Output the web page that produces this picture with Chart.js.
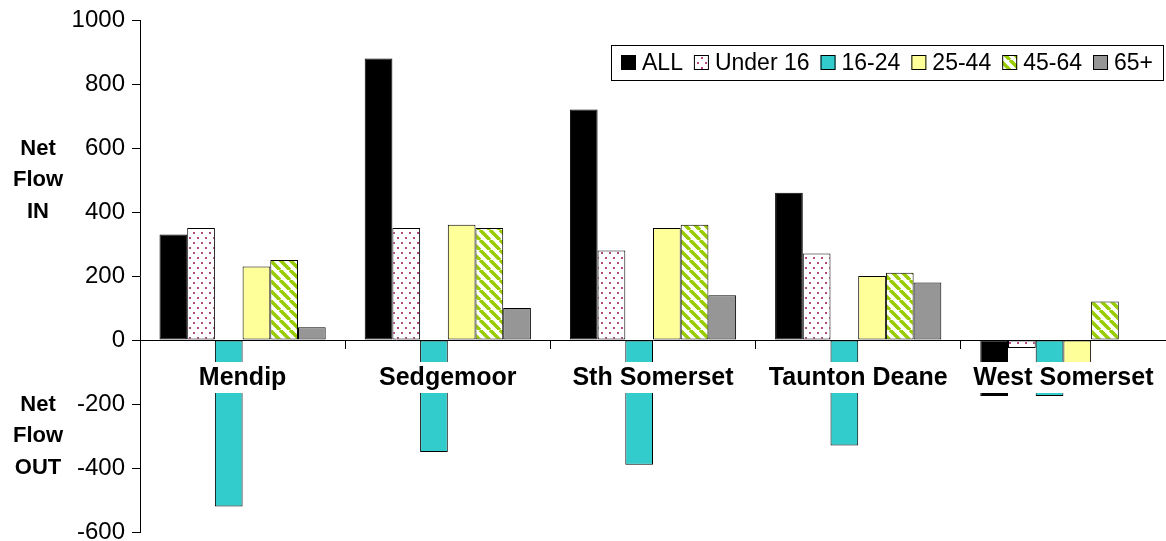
<!DOCTYPE html>
<html>
<head>
<meta charset="utf-8">
<title>Net Flow by district and age group</title>
<script src="https://cdn.jsdelivr.net/npm/chart.js@4.4.1/dist/chart.umd.min.js"></script>
<style>
  html, body { margin: 0; padding: 0; background: #fff; }
  #wrap { width: 1166px; height: 541px; }
</style>
</head>
<body>
<div id="wrap"><canvas id="flowChart" width="1166" height="541"></canvas></div>
<script>
// data
const districts = ['Mendip', 'Sedgemoor', 'Sth Somerset', 'Taunton Deane', 'West Somerset'];
const ageGroups = ['ALL', 'Under 16', '16-24', '25-44', '45-64', '65+'];
const flowAll = [330, 880, 720, 460, -175];
const flowUnder16 = [350, 350, 280, 270, -25];
const flow16to24 = [-520, -350, -390, -330, -175];
const flow25to44 = [230, 360, 350, 200, -100];
const flow45to64 = [250, 350, 360, 210, 120];
const flow65plus = [40, 100, 140, 180, 0];
const yTicks = [-600, -400, -200, 0, 200, 400, 600, 800, 1000];

const FONT = '"Liberation Sans", Arial, Helvetica, sans-serif';
Chart.defaults.font.family = FONT;
Chart.defaults.color = '#000';

// fill patterns like the old Excel ones
function dotPattern() {
    const c = document.createElement('canvas');
    c.width = 8; c.height = 10;
    const g = c.getContext('2d');
    g.fillStyle = '#fff';
    g.fillRect(0, 0, 8, 10);
    g.fillStyle = '#b04a80';
    g.fillRect(1, 2, 2, 2);
    g.fillRect(5, 7, 2, 2);
    return g.createPattern(c, 'repeat');
}

function stripePattern() {
    const s = 10;
    const c = document.createElement('canvas');
    c.width = s; c.height = s;
    const g = c.getContext('2d');
    g.fillStyle = '#fff';
    g.fillRect(0, 0, s, s);
    g.strokeStyle = '#99cc00';
    g.lineWidth = 3.6;
    g.beginPath();
    [-s, 0, s].forEach(k => {
        g.moveTo(k, 0);
        g.lineTo(k + s, s);
    });
    g.stroke();
    return g.createPattern(c, 'repeat');
}

const seriesValues = [flowAll, flowUnder16, flow16to24, flow25to44, flow45to64, flow65plus];
const seriesFills = ['#000000', dotPattern(), '#33cccc', '#ffff99', stripePattern(), '#969696'];

// legend in a box inside the plot, top right
const boxLegend = {
    id: 'boxLegend',
    afterDraw(chart) {
        const ctx = chart.ctx;
        const sw = 15, gapText = 6, gapItem = 11, padX = 10;
        ctx.save();
        ctx.font = '23px ' + FONT;
        const items = chart.data.datasets.map(ds => ({ ds, w: ctx.measureText(ds.label).width }));
        let width = padX * 2;
        items.forEach((it, i) => {
            width += sw + gapText + it.w + (i < items.length - 1 ? gapItem : 0);
        });
        width = Math.round(width);
        const h = 35;
        const right = 1163;
        const left = right - width;
        const top = 45;
        const cy = top + h / 2;
        ctx.fillStyle = '#fff';
        ctx.fillRect(left, top, width, h);
        ctx.strokeStyle = '#000';
        ctx.lineWidth = 1;
        ctx.strokeRect(left + 0.5, top + 0.5, width, h);
        let x = left + padX;
        items.forEach(it => {
            const by = Math.round(cy - sw / 2);
            ctx.fillStyle = it.ds.backgroundColor;
            ctx.fillRect(x, by, sw, sw);
            ctx.strokeStyle = '#000';
            ctx.strokeRect(x + 0.5, by + 0.5, sw - 1, sw - 1);
            x += sw + gapText;
            ctx.fillStyle = '#000';
            ctx.textBaseline = 'middle';
            ctx.textAlign = 'left';
            ctx.fillText(it.ds.label, x, cy + 1);
            x += it.w + gapItem;
        });
        ctx.restore();
    }
};

// "Net Flow IN" / "Net Flow OUT" on the left
const sideLabels = {
    id: 'sideLabels',
    afterDraw(chart) {
        const ctx = chart.ctx;
        const y = chart.scales.y;
        ctx.save();
        ctx.font = 'bold 22px ' + FONT;
        ctx.fillStyle = '#000';
        ctx.textAlign = 'center';
        ctx.textBaseline = 'middle';
        const drawGroup = (lines, value) => {
            const mid = y.getPixelForValue(value);
            lines.forEach((t, i) => ctx.fillText(t, 38, mid + (i - 1) * 31.5));
        };
        drawGroup(['Net', 'Flow', 'IN'], 500);
        drawGroup(['Net', 'Flow', 'OUT'], -300);
        ctx.restore();
    }
};

const ctx = document.getElementById('flowChart').getContext('2d');
const flowChart = new Chart(ctx, {
    type: 'bar',
    data: {
        labels: districts,
        datasets: ageGroups.map((name, i) => ({
            label: name,
            data: seriesValues[i],
            backgroundColor: seriesFills[i],
            borderColor: '#000',
            borderWidth: 1,
            borderSkipped: false
        }))
    },
    options: {
        responsive: false,
        animation: false,
        layout: { padding: { top: 20, bottom: 9, left: 0, right: -4 } },
        datasets: {
            bar: { categoryPercentage: 0.81, barPercentage: 1.0 }
        },
        plugins: {
            legend: { display: false },
            tooltip: { enabled: true }
        },
        scales: {
            x: {
                position: { y: 0 },
                grid: { drawOnChartArea: false, offset: true, tickLength: 8, color: '#000' },
                border: { color: '#000' },
                ticks: {
                    autoSkip: false,
                    maxRotation: 0,
                    padding: 15,
                    z: 1,
                    color: '#000',
                    font: { size: 25, weight: 'bold' },
                    showLabelBackdrop: true,
                    backdropColor: '#fff',
                    backdropPadding: { top: 1, bottom: 0, left: 2, right: 2 }
                },
                afterFit(scale) {
                    scale.height = 0;
                    scale.paddingLeft = 0;
                    scale.paddingRight = 0;
                }
            },
            y: {
                min: yTicks[0],
                max: yTicks[yTicks.length - 1],
                ticks: {
                    stepSize: yTicks[1] - yTicks[0],
                    padding: 7,
                    color: '#000',
                    font: { size: 24 },
                    callback: v => String(v)
                },
                grid: { drawOnChartArea: false, tickLength: 8, color: '#000' },
                border: { color: '#000' },
                afterFit(scale) {
                    scale.width = 140;
                    scale.paddingTop = 0;
                    scale.paddingBottom = 0;
                }
            }
        }
    },
    plugins: [boxLegend, sideLabels]
});
</script>
</body>
</html>
